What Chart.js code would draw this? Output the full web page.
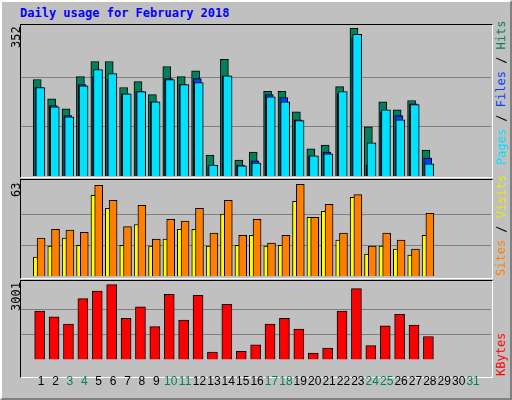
<!DOCTYPE html>
<html lang="en">
<head>
<meta charset="UTF-8">
<title>Daily usage for February 2018</title>
<script src="https://cdn.jsdelivr.net/npm/chart.js"></script>
<style>
  body { margin: 0; background: #fff; }
  #frame { position: absolute; left: 0; top: 0; width: 508px; height: 396px; background: #c0c0c0;
           border-top: 2px solid #fff; border-left: 2px solid #fff; border-right: 2px solid #808080; border-bottom: 2px solid #808080; }
  .panel { position: absolute; left: 20px; width: 471px; border: 1px solid #000; border-right-color: #fff; border-bottom-color: #fff; background: #c0c0c0; }
  canvas { position: absolute; }
  .lbl { position: absolute; font: 12px "DejaVu Sans Mono", monospace; transform-origin: left top; white-space: nowrap; }
  #title { position: absolute; left: 20px; top: 6px; font: bold 12px "DejaVu Sans Mono", monospace; color: #0000ff; }
</style>
</head>
<body>
<div id="frame"></div>
<div id="title">Daily usage for February 2018</div>
<div class="panel" style="top:24px;height:152px"></div>
<div class="panel" style="top:179px;height:98px"></div>
<div class="panel" style="top:280px;height:96px"></div>
<canvas id="c1" style="left:21px;top:25px"></canvas>
<canvas id="c2" style="left:21px;top:180px"></canvas>
<canvas id="c3" style="left:21px;top:281px"></canvas>
<div class="lbl" style="left:9px;top:48px;transform:rotate(-90deg)">352</div>
<div class="lbl" style="left:9px;top:197px;transform:rotate(-90deg)">63</div>
<div class="lbl" style="left:9px;top:311px;transform:rotate(-90deg)">3001</div>
<div class="lbl" style="left:494px;top:165px;transform:rotate(-90deg)"><span style="color:#00e0ff">Pages</span> / <span style="color:#0040ff">Files</span> / <span style="color:#00805c">Hits</span></div>
<div class="lbl" style="left:494px;top:276px;transform:rotate(-90deg)"><span style="color:#ff8000">Sites</span> / <span style="color:#e8e800">Visits</span></div>
<div class="lbl" style="left:494px;top:376px;transform:rotate(-90deg)"><span style="color:#ff0000">KBytes</span></div>
<script>
const days = Array.from({length: 28}, (_, i) => i + 1);
const hits = [230,184,160,237,273,273,211,225,194,261,237,251,50,278,38,57,202,202,153,65,74,213,352,117,177,158,180,62];
const files = [211,168,144,218,237,232,196,201,177,232,218,232,22,239,26,36,194,187,134,48,57,196,330,26,153,144,172,43];
const pages = [211,165,141,215,254,244,196,201,177,230,218,223,26,239,24,31,189,177,132,48,53,201,338,79,158,134,170,29];
const visits = [13,20.5,26,21,55.5,46.6,21,35.4,20.5,25.3,32,32,20.5,42.5,21,28,20.5,21,51.4,40.4,44.5,24.7,54,15,20.5,18.5,14.4,28];
const sites = [26,32,31.5,30,62.3,52,34,48.6,25.3,39,37.7,46.6,29.5,52,28,39,22.6,28,63,40.4,49.3,29.5,56,20.5,29.5,24.7,18.5,43];
const kbytes = [1944,1715,1418,2440,2737,3001,1649,2110,1319,2605,1583,2572,297,2209,330,594,1418,1649,1220,264,462,1944,2836,561,1352,1814,1385,923];
const weekend = [3,4,10,11,17,18,24,25,31];

function pts(vals, dx) { return vals.map((v, i) => ({x: days[i] + dx, y: v})); }
function ds(vals, dx, color, w) {
  return {data: pts(vals, dx), backgroundColor: color, borderColor: '#000', borderWidth: 1, barThickness: w, grouped: false};
}
function make(id, w, h, datasets, max, grids, showX) {
  const c = document.getElementById(id);
  c.width = w; c.height = h;
  return new Chart(c, {
    type: 'bar',
    data: {datasets},
    options: {
      responsive: false, animation: false, events: [],
      layout: {padding: 0},
      plugins: {legend: {display: false}, tooltip: {enabled: false}},
      scales: {
        x: {type: 'linear', min: 0.13, max: 31.72, display: showX,
            afterBuildTicks: a => { a.ticks = Array.from({length: 31}, (_, i) => ({value: i + 1})); },
            grid: {display: false}, border: {display: false},
            ticks: {padding: 7, autoSkip: false, maxRotation: 0, font: {family: 'Liberation Sans', size: 12},
                    color: c => weekend.includes(c.tick.value) ? '#00805c' : '#000'}},
        y: {min: 0, max: max, display: true,
            afterBuildTicks: a => { a.ticks = grids.map(v => ({value: v})); },
            ticks: {display: false}, border: {display: false},
            grid: {color: '#808080', lineWidth: 1, drawTicks: false}}
      }
    }
  });
}
make('c1', 470, 151, [ds(pages, -0.05, '#00e0ff', 9), ds(files, -0.15, '#0040ff', 8), ds(hits, -0.27, '#00805c', 8)], 360, [117.3, 234.7], false);
make('c2', 470, 96, [ds(sites, 0, '#ff8000', 8), ds(visits, -0.26, '#ffff00', 8)], 66, [21, 42], false);
make('c3', 470, 115, [ds(kbytes, -0.1, '#ff0000', 10)], 3143, [1000, 2000], true);
</script>
</body>
</html>
